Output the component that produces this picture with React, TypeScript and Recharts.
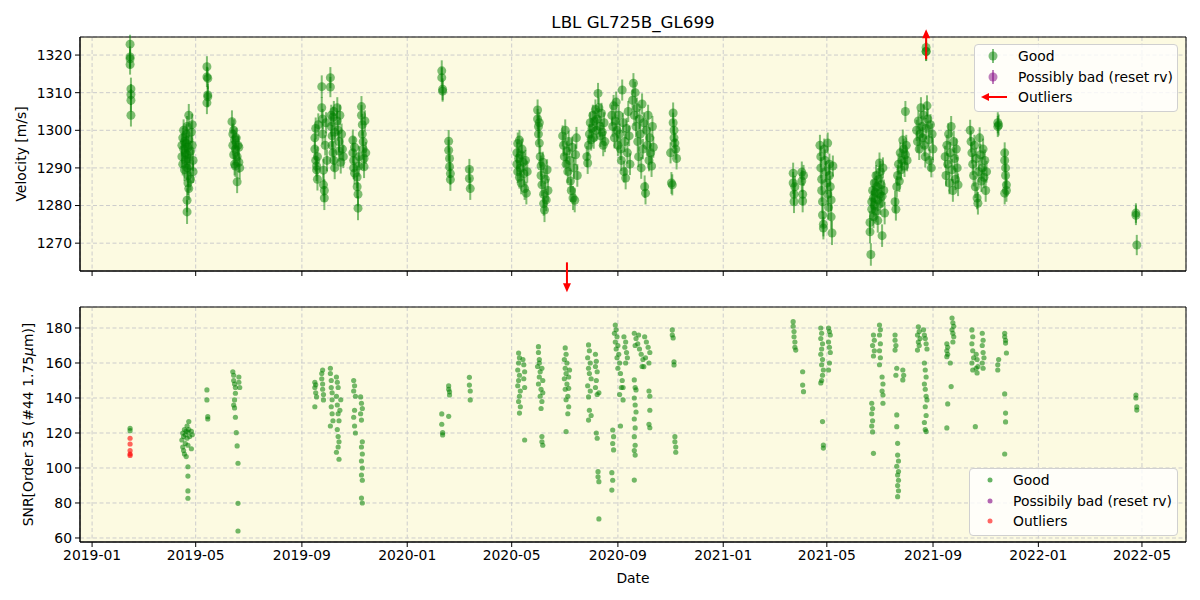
import React from 'react';
import { ScatterChart, Scatter, XAxis, YAxis, CartesianGrid, ErrorBar, ReferenceArea } from 'recharts';

// x values are days since 2019-01-01
const dayDomain: [number, number] = [-14, 1267];
const tickDays = [0, 120, 243, 365, 486, 609, 731, 851, 974, 1096, 1216];
const tickLabels = ['2019-01', '2019-05', '2019-09', '2020-01', '2020-05', '2020-09', '2021-01', '2021-05', '2021-09', '2022-01', '2022-05'];
const rvTicks = [1270, 1280, 1290, 1300, 1310, 1320];
const snrTicks = [60, 80, 100, 120, 140, 160, 180];
const rvDomain: [number, number] = [1262.6, 1324.8];
const snrDomain: [number, number] = [57.7, 192];

// [day, rv (m/s), error]
const velocityGood: [number, number, number][] = [
  [44,1322.9,2.5],[44,1319.5,2.8],[44,1319,2.6],[44,1317.5,2.7],[45,1311,3],[45,1309.5,2.8],[45,1308,3],[45,1304,3],
  [104,1296,3],[104,1293,2.8],[105,1298,2.7],[105,1291,3],[106,1295,2.6],[106,1300,2.9],[107,1289.5,3],[107,1297,2.8],
  [108,1294,2.7],[108,1292,3],[109,1299,2.6],[109,1296.5,2.8],[110,1290,3],[110,1293.5,2.7],[110,1301,2.8],[111,1288,3],
  [111,1295.5,2.9],[111,1286,3.2],[112,1292.5,2.8],[112,1297.5,2.7],[112,1284.5,3],[110,1281.4,3.2],[110,1278.3,3.2],
  [113,1290.5,2.8],[114,1294.5,2.7],[114,1287,3],[115,1299.5,2.8],[112,1304,3],[116,1301.5,2.9],[116,1296,2.7],[117,1292,2.8],[117,1289,3],
  [133,1316.9,2.8],[133,1314.2,2.7],[134,1313.8,2.9],[134,1309.4,3],[134,1308.9,2.8],[133,1307.3,3],
  [162,1302.3,3],[163,1299,2.8],[163,1296,2.7],[164,1300,2.9],[164,1293.5,2.8],[165,1297.5,2.7],[165,1291,3],[166,1295,2.8],
  [166,1290.5,2.9],[167,1298,2.7],[168,1286.3,3],[168,1293,2.8],[169,1296,2.7],[170,1291.5,2.8],[170,1295.5,2.9],[171,1290,3],
  [258,1298,3],[258,1295,2.8],[259,1300.5,2.9],[259,1292,3],[260,1289.5,3],[260,1290.5,2.8],[261,1293,2.7],[261,1287,3],[262,1301.5,3],
  [266,1311.6,3],[266,1306,2.8],[267,1303,2.7],[267,1299,2.8],[268,1289.4,3],[268,1285.5,3],[269,1284,3],[269,1282,3.2],
  [270,1296,2.7],[271,1302,2.8],[272,1292,2.9],
  [276,1314,2.8],[276,1311.5,2.7],[277,1304,2.8],[277,1301,2.7],[278,1298.5,2.9],[278,1296,2.8],[279,1294,3],[279,1303.5,2.8],
  [280,1292,2.9],[280,1305,2.8],[281,1299.5,2.7],[281,1290,3],
  [284,1306,2.8],[284,1302.5,2.7],[285,1300,2.8],[286,1297,2.9],[286,1294.5,2.8],[287,1304,2.7],[288,1291.5,3],[289,1299,2.8],
  [290,1295,2.9],[291,1293,3],
  [302,1297.4,2.8],[302,1294,2.7],[303,1292,2.9],[303,1290,3],[304,1288.6,3],[304,1295.5,2.8],
  [307,1287.6,3],[307,1285,3],[308,1283,3.2],[308,1279.3,3.2],[309,1290.5,2.8],[309,1293,2.9],
  [312,1306.3,2.8],[312,1304,2.7],[313,1301.5,2.9],[313,1299,2.8],[314,1297,2.7],[314,1295,2.9],[315,1292.5,3],[315,1290.3,3],
  [316,1302.5,2.8],[317,1294,2.9],
  [405,1315.8,2.8],[405,1314,2.7],[406,1310.9,2.9],[406,1310.4,2.8],
  [413,1297.1,3],[413,1294.7,2.8],[414,1292.5,2.9],[414,1290.3,3],[415,1288.5,3],[415,1286.9,3],
  [437,1289.6,2.8],[437,1287.2,2.9],[438,1284.5,3],
  [492,1294,2.8],[492,1291,2.7],[493,1296.5,2.9],[493,1289,3],[494,1292.5,2.8],[495,1297.4,2.7],[495,1287.5,3],[496,1290,2.8],
  [497,1293.5,2.9],[497,1286,3],[498,1295,2.8],[499,1291.5,2.7],[500,1288.5,2.9],[501,1284.5,3],[502,1292,2.8],[503,1283.3,3],[504,1289,2.9],
  [516,1305.4,2.8],[516,1303,2.7],[517,1301,2.9],[517,1299,2.8],[518,1296.6,2.9],[518,1302,2.8],
  [519,1293,3],[520,1290.5,2.8],[520,1288,2.9],[521,1285.5,3],[522,1291.5,2.8],[523,1283,3],[523,1280.5,3.2],[524,1278.8,3.2],
  [525,1287,2.9],[526,1281.5,3],[527,1289.5,2.8],[528,1284,3],
  [545,1298.5,2.8],[546,1296,2.9],[547,1293,2.8],[548,1300,2.9],[549,1291,2.8],[550,1294.5,2.7],[551,1289,3],[552,1297,2.8],
  [553,1292,2.9],[554,1286.5,3],[555,1284,3],[556,1295.5,2.8],[557,1282,3.2],[558,1290,2.9],[559,1281.4,3.2],[560,1293.5,2.8],
  [561,1298,2.9],[562,1288,3],
  [573,1293,2.8],[574,1291.3,2.9],[575,1296,2.8],[576,1299,2.7],[577,1302,2.8],[578,1297.5,2.9],[579,1300.5,2.7],[580,1304,2.8],
  [581,1298,2.9],[582,1302.5,2.8],[583,1305.5,2.7],[584,1300,2.8],[585,1303,2.9],[586,1309.8,2.8],[587,1306,2.7],[588,1301,2.8],
  [589,1298.5,2.9],[590,1304.5,2.8],[591,1299.5,2.7],[592,1296,2.9],[593,1302,2.8],[594,1297,2.8],
  [602,1304,2.8],[603,1301,2.7],[604,1306.5,2.9],[605,1298,2.8],[606,1302.5,2.7],[607,1307.5,2.8],[608,1300,2.9],[609,1296,2.8],
  [610,1304,2.7],[611,1299,2.8],[612,1295,2.9],[613,1292,2.8],[614,1310.7,2.8],[615,1302,2.7],[616,1289,2.9],[617,1297,2.8],
  [618,1287.3,3],[619,1300.5,2.8],[620,1294,2.9],[621,1305,2.8],[622,1298.5,2.7],[623,1291,2.9],
  [626,1308,2.8],[627,1312.5,2.7],[628,1304,2.8],[629,1310,2.9],[630,1301,2.8],[631,1306,2.7],[632,1297,2.9],[633,1293,2.8],
  [634,1303,2.7],[635,1299,2.8],[636,1290,2.9],[637,1307,2.8],[638,1295,2.7],[639,1302,2.8],[640,1285,3],[641,1283.3,3],
  [642,1300,2.8],[643,1296,2.9],[644,1304,2.8],[645,1292,2.9],[646,1298,2.8],[647,1294,2.7],[648,1290.5,2.9],[649,1301,2.8],[650,1295.5,2.8],
  [670,1294,2.8],[671,1286,2.9],[672,1285.5,2.8],[673,1304.6,2.8],[673,1302,2.7],[674,1300,2.8],[674,1298,2.9],[675,1296.6,2.8],
  [676,1295,2.8],[677,1292.5,2.9],
  [812,1288.6,2.8],[812,1286,2.9],[813,1283,2.8],[813,1281,3],[814,1285,2.9],[822,1288.9,2.8],[822,1286.5,2.9],[823,1283,3],
  [823,1281.2,3],[824,1288,2.8],
  [843,1296,2.8],[844,1293,2.9],[844,1290,2.8],[845,1287,3],[845,1284,3],[846,1281,3],[846,1277.5,3.2],[847,1275,3.2],[847,1274,3],
  [848,1295,2.8],[849,1292,2.9],[850,1289,2.8],[851,1286,3],[852,1296.6,2.8],[852,1283,3],[853,1279.5,3.2],[854,1291,2.8],
  [854,1288,2.9],[855,1285,3],[856,1281.5,3],[856,1277,3.2],[857,1272.7,3.2],[858,1290.5,2.8],
  [901,1275.5,3],[901,1273,3],[902,1267,3],[903,1281,2.9],[903,1279,3],[904,1284,2.9],[905,1282,3],[905,1277,3],[906,1286,2.9],
  [906,1280,3],[907,1283.5,2.9],[908,1288,2.8],[908,1278.5,3],[909,1285,2.9],[910,1281.5,3],[910,1276,3.2],[911,1287,2.9],
  [912,1283,2.9],[912,1291.3,2.8],[913,1280.5,3],[913,1289,2.8],[914,1285.5,2.9],[915,1272,3],[915,1282.5,3],[916,1290,2.8],
  [917,1284,2.9],[918,1278,3],
  [930,1281,2.9],[931,1279,3],[932,1285,2.9],[933,1288,2.8],[934,1291,2.8],[935,1286.5,2.9],[936,1294,2.8],[937,1289.5,2.8],
  [938,1292,2.9],[939,1297.4,2.8],[940,1295,2.8],[941,1290.5,2.9],[942,1293.5,2.8],[942,1305,2.8],[943,1296,2.8],[944,1292,2.9],
  [955,1300,2.8],[956,1297,2.9],[957,1302.5,2.8],[958,1295,2.9],[959,1299,2.8],[960,1306,2.8],[961,1301,2.9],[962,1298,2.8],
  [963,1304,2.8],[964,1296,2.9],[965,1293,2.9],[966,1300.5,2.8],[967,1306.5,2.8],[968,1303,2.8],[969,1297.5,2.9],[970,1292,2.9],
  [971,1301.5,2.8],[972,1290,2.5],[973,1299,2.8],[974,1295,2.9],
  [966,1322,2.5],[966,1321,2.5],[966,1320.9,2.5],
  [988,1293,2.9],[989,1288,2.9],[990,1296,2.8],[991,1291,2.9],[992,1299,2.8],[993,1286,3],[994,1294,2.9],[995,1301,2.8],
  [996,1289.5,2.9],[997,1284,3],[998,1297,2.8],[999,1292.5,2.9],[1000,1287,2.9],[1001,1295,2.8],[1002,1290,2.9],[1003,1285.5,3],
  [1017,1300,2.8],[1018,1297,2.9],[1019,1294,2.8],[1020,1291,2.9],[1021,1288,2.9],[1022,1296,2.8],[1023,1285,3],[1024,1292.5,2.9],
  [1025,1282,3],[1026,1280.6,3],[1027,1289,2.9],[1028,1298,2.8],[1029,1293.5,2.9],[1030,1286.5,2.9],[1031,1290,2.9],[1032,1295,2.8],
  [1033,1287.5,2.9],[1034,1292,2.9],[1035,1284,3],[1036,1289,2.9],
  [1049,1302,2.8],[1049,1301,2.8],[1050,1301.4,2.8],
  [1057,1294,2.8],[1057,1292,2.9],[1058,1290,2.9],[1058,1288,2.9],[1059,1285.5,3],[1059,1284,3],[1057,1283.3,3],
  [1209,1278,2.6],[1209,1277.4,2.6],[1210,1269.5,2.7],
];
const velocityBad: [number, number, number][] = [];
// [day, rv where the arrow starts, direction]
const velocityOutliers: [number, number, string][] = [[966, 1318.9, 'up'], [550, 1264.9, 'down']];

// [day, snr]
const snrGood: [number, number][] = [
  [44,122.7],[44,121.3],
  [104,116],[105,120],[105,112],[106,118],[106,110],[107,122],[107,108],[108,119],[108,114],[109,121],[109,106.5],[110,117],
  [110,124],[111,113],[111,120.5],[112,122],[112,126.5],[113,118],[111,100.7],[111,95.4],[111,86.9],[111,82.7],[115,121],[115,111],[116,119],
  [133,144.6],[133,138.9],[134,129.3],[134,128],
  [163,155],[164,153],[164,150],[165,148],[166,146],[166,142.7],[165,138.9],[164,136],[165,134.3],[166,129],[167,120.2],
  [168,112.6],[169,102.7],[169,79.8],[169,64],[170,152],[170,149],[171,146],
  [258,149],[258,146],[259,143],[259,147.5],[260,140.6],[258,135],
  [266,154],[266,151],[267,148],[267,145],[268,142],[268,138.9],[267,156],
  [276,157],[276,154],[277,150],[277,146],[278,143],[278,139],[277,135],[278,131],[279,127],[276,124],
  [283,152],[284,149],[285,146],[283,141],[284,136],[285,131],[286,127],[284,122],[285,118],[286,115],[285,112],[283,109],
  [286,105],[287,133],[288,139],
  [303,150],[304,147],[303,144],[305,141],[304,133],[303,129],[304,124],[305,120],
  [311,140.6],[312,137],[313,134],[311,131],[312,127.4],[313,115],[312,112],[313,108],[312,104],[313,100],[312,96],[313,93],
  [312,82.8],[313,80],
  [405,130.9],[405,125],[406,120.2],[406,118.9],
  [413,146.9],[413,145],[414,143.5],[414,141.7],[413,129.5],
  [437,151.8],[437,147.4],[438,144],[438,138.9],
  [494,165.7],[495,163],[494,160],[493,156],[495,153],[494,150],[493,147],[496,144],[495,141],[494,138],[496,135],[495,131.4],
  [500,159],[501,155],[500,151],[501,146],[499,162],[501,116],
  [517,169.3],[517,166],[518,162],[516,158],[519,155],[518,152],[517,148],[520,145],[519,141],[521,138],[520,134],[522,150],
  [521,157],[522,143],[521,118],[521,115],[522,113],[518,160],
  [548,168.6],[549,165],[547,162],[550,160],[548,157],[549,154],[547,151],[550,148],[548,145],[551,141],[549,139],[552,135],
  [551,131],[549,120.8],[552,152],[553,156],[552,145.5],
  [575,170.3],[576,167],[574,163],[577,160],[575,157],[576,154],[578,151],[574,147],[577,144],[575,140.6],[576,133],[578,130],
  [575,127.4],[583,165],[584,161],[583,158],[585,155],[584,150],[583,146],[585,142],[584,120],[585,117],[586,97.9],[586,95],
  [587,92.2],[587,70.9],[587,143],
  [606,181.7],[607,179],[605,177],[608,175],[606,172],[609,170],[607,168],[610,165],[608,163],[611,160],[609,157],[612,154],
  [614,150],[613,146],[611,142],[615,138.9],[616,175],[618,172],[617,169],[619,166],[620,163],[603,121.7],[604,117.9],
  [603,114],[604,110.3],[602,97.3],[603,93],[602,87.4],[612,124],[615,146],[618,160],
  [628,177],[630,174],[632,171],[634,168],[636,165],[638,162],[640,175],[642,172],[644,169],[646,166],[641,163],[637,158],
  [629,170],[633,176],[645,160],[639,157.9],[628,150.3],[629,146],[630,144.6],[628,140],[629,136],[630,132],[628,128],
  [629,122.9],[628,117.9],[629,113],[628,110],[629,107.4],[628,93.1],[645,144],[646,141],[646,133],[645,125],[646,123],
  [672,178.9],[672,176],[673,174.3],[674,160.7],[674,158.9],[675,117.9],[675,115],[676,112],[676,109],
  [812,183.6],[812,181],[813,178],[813,175],[814,172],[814,169],[815,167.4],[823,155],[823,147.4],[824,143.6],
  [844,180],[845,177],[844,174],[846,171],[845,168],[844,165],[846,162],[845,159],[847,156],[846,153],[845,150],[844,148.6],
  [853,180],[854,178],[855,176],[853,172],[854,169],[855,166],[854,160],[853,156],[846,126.5],[847,113.1],[847,111.4],
  [905,176],[906,173],[904,170],[906,167],[905,164],[912,181.7],[913,179],[912,176],[913,171],[912,167],[913,163],[912,159],
  [915,152],[916,148],[915,144],[916,141.7],[916,137],[903,137],[904,134],[903,131],[904,127],[903,124],[904,120.6],[905,108.4],
  [930,176],[930,173],[931,170],[930,167.4],[932,157],[931,153],[939,156],[940,153],[939,150.3],[932,130.3],[932,123.6],
  [933,114.1],[933,107.4],[934,104],[932,101],[934,98],[933,96],[934,93],[933,90],[934,87],[933,83.6],
  [957,180.7],[958,178],[956,176],[959,174],[957,172],[958,170],[956,167.4],[963,179],[964,176],[965,174],[966,171],[967,168],
  [964,160],[965,156],[966,152],[964,148],[965,145],[966,141],[967,138.9],[965,135],[966,130],[964,126],[965,122],[966,120.8],
  [996,185.7],[997,183],[998,181],[996,179],[997,177],[998,175],[997,172],[990,171],[991,169],[990,167],[991,165],[990,163.6],
  [994,160],[995,146.5],[991,136.6],[990,122.9],
  [1019,178.9],[1020,175],[1019,171],[1020,167],[1021,163],[1019,160],[1020,156],[1024,165],[1025,162],[1026,158],[1025,154.3],
  [1024,157],[1031,177],[1032,173],[1031,170],[1032,166],[1033,163],[1031,160],[1032,157],[1023,123.6],
  [1049,159],[1049,156],[1050,162],[1057,177],[1057,175],[1058,173],[1058,171.4],[1059,165.7],[1057,142.3],[1058,131.4],
  [1058,126.3],[1057,108],
  [1209,141.7],[1209,140],[1210,134.9],[1210,133.1],
];
const snrBad: [number, number][] = [];
const snrOutliers: [number, number][] = [[44,117],[44,113.7],[44,110],[44,108],[44,107.2]];

const GREEN = '#008000';
const PURPLE = '#800080';
const RED = '#ff0000';
const BG = '#fcfae1';
const FONT = '"DejaVu Sans", sans-serif';
const tickStyle = { fill: '#000', fontSize: 13.9 };

const rvData = (rows: [number, number, number][]) => rows.map(([day, y, err]) => ({ day, y, err }));
const snrData = (rows: [number, number][]) => rows.map(([day, y]) => ({ day, y }));

const dot = (r: number, color: string, op: number) => (p: any) =>
  p.cx == null ? <g /> : <circle cx={p.cx} cy={p.cy} r={r} fill={color} fillOpacity={op} />;

const arrowShape = (p: any) => {
  if (p.cx == null) return <g />;
  const s = p.payload.dir === 'up' ? -1 : 1;
  const { cx, cy } = p;
  return (
    <g>
      <line x1={cx} y1={cy} x2={cx} y2={cy + s * 22} stroke={RED} strokeWidth={2} />
      <polygon points={`${cx},${cy + s * 30} ${cx - 4},${cy + s * 21} ${cx + 4},${cy + s * 21}`} fill={RED} />
    </g>
  );
};

// own prop names so recharts' injected x/y don't override them
const YLabel = ({ lx, ly, children }: any) => (
  <text x={lx} y={ly} transform={`rotate(-90 ${lx} ${ly})`} textAnchor="middle" dominantBaseline="central" fontSize={13.9} fill="#000">
    {children}
  </text>
);

const LegendBox = ({ left, top, width, rows }: any) => (
  <div style={{ position: 'absolute', left, top, width, height: 68, background: 'rgba(255,255,255,0.8)', border: '1px solid #d0d0d0', borderRadius: 4, boxSizing: 'border-box' }}>
    {rows.map((r: any, i: number) => (
      <div key={i} style={{ position: 'absolute', left: 0, top: 1 + i * 20.5, height: 20, width: '100%' }}>
        <svg width={40} height={20} style={{ position: 'absolute', left: 0, top: 0 }}>{r.icon}</svg>
        <span style={{ position: 'absolute', left: 43, top: 1, fontSize: 13.9, lineHeight: '18px', whiteSpace: 'nowrap' }}>{r.label}</span>
      </div>
    ))}
  </div>
);

const errIcon = (c: string) => (
  <g>
    <line x1={18} y1={3} x2={18} y2={17} stroke={c} strokeOpacity={0.5} strokeWidth={2} />
    <circle cx={18} cy={10} r={4.5} fill={c} fillOpacity={0.5} />
  </g>
);
const dotIcon = (c: string) => <circle cx={20} cy={10} r={2.5} fill={c} fillOpacity={0.6} />;

export default function App() {
  return (
    <div style={{ position: 'absolute', left: 0, top: 0, width: 1200, height: 600, background: '#fff', fontFamily: FONT }}>
      <div style={{ position: 'absolute', left: 80, width: 1106, top: 12, textAlign: 'center', fontSize: 16.7, lineHeight: '20px' }}>
        LBL GL725B_GL699
      </div>

      <div style={{ position: 'absolute', left: 0, top: 0 }}>
        <ScatterChart width={1200} height={300} margin={{ top: 37, right: 14, bottom: 0, left: 0 }}>
          <CartesianGrid stroke="#cccccc" strokeDasharray="4 2.5" fill={BG} fillOpacity={1} />
          <XAxis type="number" dataKey="day" domain={dayDomain} ticks={tickDays} interval={0} height={29}
            tickFormatter={() => ''} tickSize={5} stroke="#000" />
          <YAxis type="number" dataKey="y" domain={rvDomain} ticks={rvTicks} allowDataOverflow width={80}
            tick={tickStyle} tickSize={5} tickMargin={3} stroke="#000"
            label={<YLabel lx={21} ly={154}>Velocity [m/s]</YLabel>} />
          <YAxis yAxisId="arr" type="number" dataKey="y" domain={rvDomain} hide />
          <ReferenceArea x1={dayDomain[0]} x2={dayDomain[1]} y1={rvDomain[0]} y2={rvDomain[1]} fill="none" stroke="#000" ifOverflow="visible" />
          <Scatter data={rvData(velocityGood)} shape={dot(4.5, GREEN, 0.5)} isAnimationActive={false}>
            <ErrorBar dataKey="err" direction="y" width={0} stroke={GREEN} strokeOpacity={0.5} strokeWidth={2} />
          </Scatter>
          <Scatter data={rvData(velocityBad)} shape={dot(4.5, PURPLE, 0.5)} isAnimationActive={false} />
          <Scatter yAxisId="arr" data={velocityOutliers.map(([day, y, dir]) => ({ day, y, dir }))} shape={arrowShape} isAnimationActive={false} />
        </ScatterChart>
      </div>

      <div style={{ position: 'absolute', left: 0, top: 300 }}>
        <ScatterChart width={1200} height={300} margin={{ top: 7, right: 14, bottom: 0, left: 0 }}>
          <CartesianGrid stroke="#cccccc" strokeDasharray="4 2.5" fill={BG} fillOpacity={1} />
          <XAxis type="number" dataKey="day" domain={dayDomain} ticks={tickDays} interval={0} height={58}
            tickFormatter={(v: number) => tickLabels[tickDays.indexOf(v)] ?? ''} tick={tickStyle} tickSize={5} tickMargin={3} stroke="#000"
            label={{ value: 'Date', position: 'insideBottom', offset: 17, fill: '#000', fontSize: 13.9 }} />
          <YAxis type="number" dataKey="y" domain={snrDomain} ticks={snrTicks} allowDataOverflow width={80}
            tick={tickStyle} tickSize={5} tickMargin={3} stroke="#000"
            label={<YLabel lx={28} ly={124.5}>SNR[Order 35 (#44 1.75<tspan fontStyle="italic">μ</tspan>m)]</YLabel>} />
          <ReferenceArea x1={dayDomain[0]} x2={dayDomain[1]} y1={snrDomain[0]} y2={snrDomain[1]} fill="none" stroke="#000" ifOverflow="visible" />
          <Scatter data={snrData(snrGood)} shape={dot(2.6, GREEN, 0.55)} isAnimationActive={false} />
          <Scatter data={snrData(snrBad)} shape={dot(2.6, PURPLE, 0.55)} isAnimationActive={false} />
          <Scatter data={snrData(snrOutliers)} shape={dot(2.6, RED, 0.6)} isAnimationActive={false} />
        </ScatterChart>
      </div>

      <LegendBox left={974} top={44} width={204} rows={[
        { icon: errIcon(GREEN), label: 'Good' },
        { icon: errIcon(PURPLE), label: 'Possibly bad (reset rv)' },
        { icon: (<g><line x1={14} y1={10} x2={32} y2={10} stroke={RED} strokeWidth={2} /><polygon points="6,10 14,6 14,14" fill={RED} /></g>), label: 'Outliers' },
      ]} />
      <LegendBox left={969} top={468} width={209} rows={[
        { icon: dotIcon(GREEN), label: 'Good' },
        { icon: dotIcon(PURPLE), label: 'Possibily bad (reset rv)' },
        { icon: dotIcon(RED), label: 'Outliers' },
      ]} />
    </div>
  );
}
